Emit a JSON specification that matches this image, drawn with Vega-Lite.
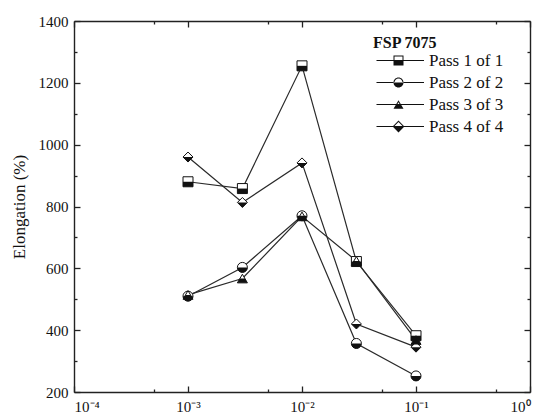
{
  "$schema": "https://vega.github.io/schema/vega-lite/v6.json",
  "width": 456,
  "height": 371,
  "autosize": {"type": "none"},
  "padding": {"left": 74, "top": 21, "right": 9, "bottom": 25},
  "background": "white",
  "config": {
    "view": {"stroke": null},
    "font": "Liberation Serif",
    "axis": {
      "grid": false,
      "domainColor": "#222",
      "domainWidth": 1.4,
      "tickColor": "#222",
      "tickWidth": 1.3,
      "labelFont": "Liberation Serif",
      "labelFontSize": 15,
      "labelColor": "#111",
      "titleFont": "Liberation Serif",
      "titleFontSize": 17,
      "titleFontWeight": "normal",
      "titleColor": "#111"
    },
    "legend": {
      "titleFont": "Liberation Serif",
      "titleFontSize": 16,
      "titleFontWeight": "bold",
      "titleColor": "#111",
      "labelFont": "Liberation Serif",
      "labelFontSize": 17,
      "labelColor": "#111"
    }
  },
  "data": {
    "values": [
      {"series": "Pass 1 of 1", "rate": 0.001, "elongation": 880},
      {"series": "Pass 1 of 1", "rate": 0.003, "elongation": 858},
      {"series": "Pass 1 of 1", "rate": 0.01, "elongation": 1255},
      {"series": "Pass 1 of 1", "rate": 0.03, "elongation": 622},
      {"series": "Pass 1 of 1", "rate": 0.1, "elongation": 382},
      {"series": "Pass 2 of 2", "rate": 0.001, "elongation": 510},
      {"series": "Pass 2 of 2", "rate": 0.003, "elongation": 603},
      {"series": "Pass 2 of 2", "rate": 0.01, "elongation": 770},
      {"series": "Pass 2 of 2", "rate": 0.03, "elongation": 357},
      {"series": "Pass 2 of 2", "rate": 0.1, "elongation": 252},
      {"series": "Pass 3 of 3", "rate": 0.001, "elongation": 514},
      {"series": "Pass 3 of 3", "rate": 0.003, "elongation": 567},
      {"series": "Pass 3 of 3", "rate": 0.01, "elongation": 768},
      {"series": "Pass 3 of 3", "rate": 0.03, "elongation": 624},
      {"series": "Pass 3 of 3", "rate": 0.1, "elongation": 368},
      {"series": "Pass 4 of 4", "rate": 0.001, "elongation": 960},
      {"series": "Pass 4 of 4", "rate": 0.003, "elongation": 813},
      {"series": "Pass 4 of 4", "rate": 0.01, "elongation": 941},
      {"series": "Pass 4 of 4", "rate": 0.03, "elongation": 420},
      {"series": "Pass 4 of 4", "rate": 0.1, "elongation": 345}
    ]
  },
  "layer": [
    {
      "mark": {"type": "line", "color": "#2a2a2a", "strokeWidth": 1.2},
      "encoding": {
        "x": {
          "field": "rate", "type": "quantitative",
          "scale": {"type": "log", "domain": [0.0001, 1], "nice": false},
          "axis": {
            "orient": "bottom", "title": null, "tickSize": -6, "labelPadding": 13,
            "labelFont": "Liberation Serif", "labelFontSize": 15,
            "values": [0.0001, 0.001, 0.01, 0.1, 1],
            "labelExpr": "'10' + ['⁻⁴','⁻³','⁻²','⁻¹','⁰'][round(log(datum.value)/LN10)+4]"
          }
        },
        "y": {
          "field": "elongation", "type": "quantitative",
          "scale": {"domain": [200, 1400], "nice": false, "zero": false},
          "axis": {
            "orient": "left", "title": "Elongation (%)", "tickSize": -6, "labelPadding": 12,
            "labelFont": "Liberation Serif", "labelFontSize": 15, "format": "d",
            "titleFont": "Liberation Serif", "titleFontSize": 17, "titlePadding": 10,
            "values": [200, 400, 600, 800, 1000, 1200, 1400]
          }
        },
        "detail": {"field": "series"}
      }
    },
    {
      "mark": {"type": "point", "filled": true, "fill": "white", "stroke": "#111", "strokeWidth": 1, "opacity": 1},
      "encoding": {
        "x": {
          "field": "rate", "type": "quantitative",
          "axis": {"orient": "top", "title": null, "labels": false, "tickSize": -6,
                   "values": [0.0001, 0.001, 0.01, 0.1, 1]}
        },
        "y": {
          "field": "elongation", "type": "quantitative",
          "axis": {"orient": "right", "title": null, "labels": false, "tickSize": -6,
                   "values": [200, 400, 600, 800, 1000, 1200, 1400]}
        },
        "shape": {
          "field": "series", "type": "nominal", "legend": null,
          "scale": {"range": ["square", "circle", "triangle-up", "diamond"]}
        },
        "size": {
          "field": "series", "type": "nominal", "legend": null,
          "scale": {"range": [100, 100, 100, 140]}
        }
      }
    },
    {
      "mark": {"type": "point", "filled": true, "fill": "#111", "strokeWidth": 0, "opacity": 1},
      "encoding": {
        "x": {
          "field": "rate", "type": "quantitative",
          "axis": {"orient": "bottom", "title": null, "labels": false, "domain": false, "tickSize": -3,
                   "values": [0.0005, 0.005, 0.05, 0.5]}
        },
        "y": {
          "field": "elongation", "type": "quantitative",
          "axis": {"orient": "left", "title": null, "labels": false, "domain": false, "tickSize": -3,
                   "values": [300, 500, 700, 900, 1100, 1300]}
        },
        "shape": {
          "field": "series", "type": "nominal", "legend": null,
          "scale": {"range": [
            "M-1,0L1,0L1,1L-1,1Z",
            "M-1,0A1,1,0,0,0,1,0Z",
            "M-0.5,0L0.5,0L1,0.866L-1,0.866Z",
            "M-1,0L1,0L0,1Z"
          ]}
        },
        "size": {
          "field": "series", "type": "nominal", "legend": null,
          "scale": {"range": [100, 100, 100, 140]}
        }
      }
    },
    {
      "mark": {"type": "point", "filled": true, "color": "#111", "opacity": 0, "size": 100},
      "encoding": {
        "x": {
          "field": "rate", "type": "quantitative",
          "axis": {"orient": "top", "title": null, "labels": false, "domain": false, "tickSize": -3,
                   "values": [0.0005, 0.005, 0.05, 0.5]}
        },
        "y": {
          "field": "elongation", "type": "quantitative",
          "axis": {"orient": "right", "title": null, "labels": false, "domain": false, "tickSize": -3,
                   "values": [300, 500, 700, 900, 1100, 1300]}
        },
        "shape": {
          "field": "series", "type": "nominal",
          "scale": {"range": [
            "M-1,-0.12L8.5,-0.12L8.5,0.12L-1,0.12ZM2.4,0L2.4,-1L4.4,-1L4.4,0ZM2.6,0L4.2,0L4.2,-0.8L2.6,-0.8ZM2.4,0L4.4,0L4.4,1L2.4,1Z",
            "M-1,-0.12L8.5,-0.12L8.5,0.12L-1,0.12ZM2.4,0A1,1,0,0,1,4.4,0ZM4.2,0A0.8,0.8,0,0,0,2.6,0ZM2.4,0A1,1,0,0,0,4.4,0Z",
            "M-1,-0.12L8.5,-0.12L8.5,0.12L-1,0.12ZM2.9,0L3.4,-0.866L3.9,0ZM3.669,0L3.4,-0.466L3.131,0ZM2.9,0L3.9,0L4.4,0.866L2.4,0.866Z",
            "M-1,-0.12L8.5,-0.12L8.5,0.12L-1,0.12ZM2.22,0L3.4,-1.18L4.58,0ZM4.297,0L3.4,-0.897L2.503,0ZM2.22,0L4.58,0L3.4,1.18Z"
          ]},
          "legend": {
            "title": "FSP 7075",
            "orient": "none",
            "legendX": 299,
            "legendY": 14,
            "symbolSize": 100,
            "symbolOpacity": 1,
            "symbolStrokeWidth": 0,
            "labelFont": "Liberation Serif",
            "labelFontSize": 17,
            "titleFont": "Liberation Serif",
            "labelOffset": 39,
            "rowPadding": 4,
            "titlePadding": 1,
            "encode": {
              "symbols": {
                "update": {
                  "fill": {"value": "#111"},
                  "opacity": {"value": 1}
                }
              }
            }
          }
        }
      }
    }
  ],
  "resolve": {
    "scale": {"shape": "independent"},
    "axis": {"x": "independent", "y": "independent"}
  }
}
